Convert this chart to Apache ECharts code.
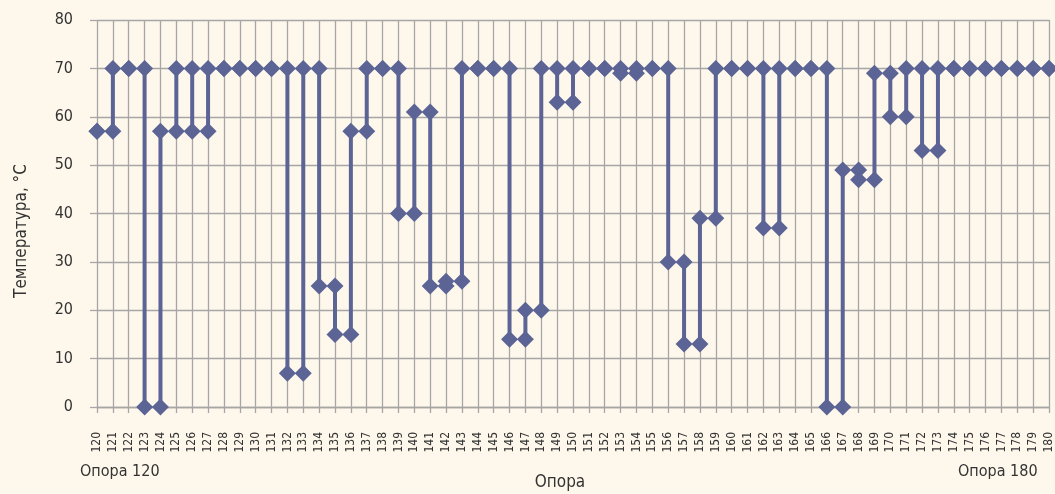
<!DOCTYPE html>
<html>
<head>
<meta charset="utf-8">
<script src="https://cdn.jsdelivr.net/npm/echarts@6/dist/echarts.min.js"></script>
<style>
    html, body { margin: 0; padding: 0; background: #fef7eb; }
    #chart { width: 1055px; height: 494px; }
</style>
</head>
<body>
<div id="chart"></div>
<script>
// опоры 120..180
var categories = [];
for (var c = 120; c <= 180; c++) categories.push(String(c));

// две точки на опору (значения, °С)
var tempA = [57, 57, 70, 70, 0, 57, 57, 57, 70, 70, 70, 70, 70, 70, 70, 25, 15, 57, 70, 70,
    40, 61, 25, 26, 70, 70, 70, 14, 20, 70, 70, 70, 70, 70, 69, 70, 70, 30, 13, 39,
    70, 70, 70, 70, 70, 70, 70, 0, 49, 47, 69, 60, 70, 53, 70, 70, 70, 70, 70, 70, 70];
var tempB = [57, 70, 70, 0, 57, 70, 70, 70, 70, 70, 70, 70, 7, 7, 25, 15, 57, 70, 70, 40,
    61, 25, 26, 70, 70, 70, 14, 20, 70, 63, 63, 70, 70, 69, 70, 70, 30, 13, 39, 70,
    70, 70, 37, 37, 70, 70, 0, 49, 47, 69, 60, 70, 53, 70, 70, 70, 70, 70, 70, 70, 70];

var yTicks = [0, 10, 20, 30, 40, 50, 60, 70, 80];

var FONT = "'Liberation Sans Narrow', 'DejaVu Sans Condensed', sans-serif";
var TXT = '#333333';
var MARK = '#5b6495';
var GRID = '#a6a6a6';

var chart = echarts.init(document.getElementById('chart'));

var pairs = categories.map(function (c, i) {
    return [i, tempA[i], tempB[i]];
});

var option = {
    backgroundColor: '#fef7eb',
    animation: false,
    grid: {
        left: 97,
        right: 5,
        top: 20,
        bottom: 87
    },
    xAxis: {
        type: 'category',
        data: categories,
        boundaryGap: false,
        axisLine: { show: true, lineStyle: { color: GRID, width: 1.3 } },
        axisTick: { show: true, length: 6, interval: 0, lineStyle: { color: GRID, width: 1.3 } },
        splitLine: { show: true, interval: 0, lineStyle: { color: GRID, width: 1.3 } },
        axisLabel: {
            interval: 0,
            rotate: 90,
            margin: 25,
            fontFamily: FONT,
            fontSize: 12,
            color: TXT
        }
    },
    yAxis: {
        type: 'value',
        min: yTicks[0],
        max: yTicks[yTicks.length - 1],
        interval: 10,
        axisLine: { show: false },
        axisTick: { show: true, length: 7, lineStyle: { color: GRID, width: 1.3 } },
        splitLine: { show: true, lineStyle: { color: GRID, width: 1.3 } },
        axisLabel: {
            margin: 24,
            fontFamily: FONT,
            fontSize: 16,
            color: TXT
        }
    },
    graphic: [
        {
            type: 'text',
            left: 80,
            top: 464,
            style: { text: 'Опора 120', font: '16px ' + FONT, fill: TXT }
        },
        {
            type: 'text',
            left: 958,
            top: 464,
            style: { text: 'Опора 180', font: '16px ' + FONT, fill: TXT }
        },
        {
            type: 'text',
            x: 560,
            y: 474,
            style: { text: 'Опора', font: '17px ' + FONT, fill: TXT, align: 'center', verticalAlign: 'top' }
        },
        {
            type: 'text',
            x: 22,
            y: 231,
            rotation: Math.PI / 2,
            style: { text: 'Температура, °С', font: '17px ' + FONT, fill: TXT, align: 'center', verticalAlign: 'middle' }
        }
    ],
    series: [
        {
            // вертикальные линии между двумя значениями
            type: 'custom',
            data: pairs,
            z: 2,
            renderItem: function (params, api) {
                var p1 = api.coord([api.value(0), api.value(1)]);
                var p2 = api.coord([api.value(0), api.value(2)]);
                return {
                    type: 'line',
                    shape: { x1: p1[0], y1: p1[1], x2: p2[0], y2: p2[1] },
                    style: { stroke: MARK, lineWidth: 4 }
                };
            }
        },
        {
            type: 'scatter',
            data: tempA,
            symbol: 'diamond',
            symbolSize: 17,
            z: 3,
            itemStyle: { color: MARK, opacity: 1 }
        },
        {
            type: 'scatter',
            data: tempB,
            symbol: 'diamond',
            symbolSize: 17,
            z: 3,
            itemStyle: { color: MARK, opacity: 1 }
        }
    ]
};

chart.setOption(option);
</script>
</body>
</html>
